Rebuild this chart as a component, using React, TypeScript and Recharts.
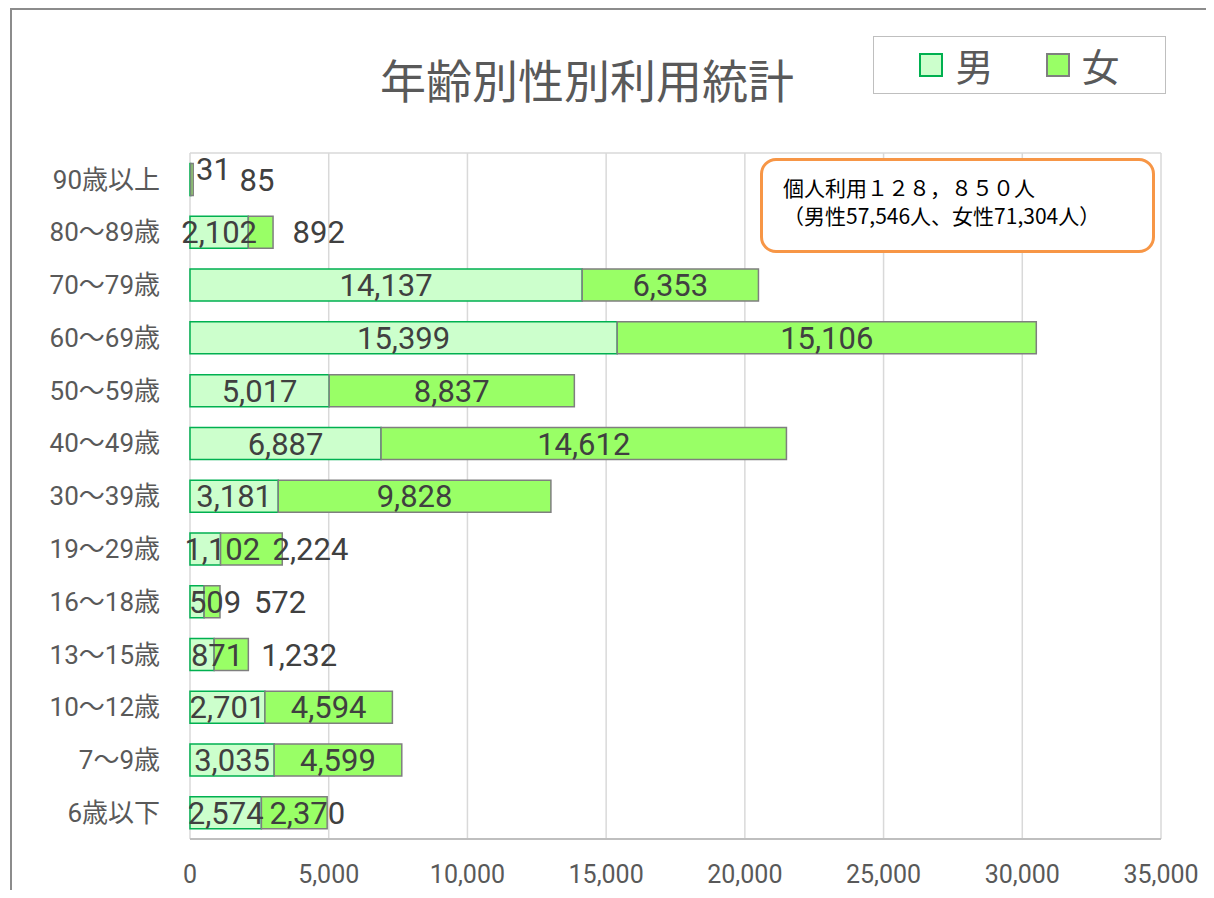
import React from 'react';
import {
  BarChart,
  Bar,
  XAxis,
  YAxis,
  CartesianGrid,
  LabelList,
} from 'recharts';

const categories = ['90歳以上', '80～89歳', '70～79歳', '60～69歳', '50～59歳', '40～49歳', '30～39歳', '19～29歳', '16～18歳', '13～15歳', '10～12歳', '7～9歳', '6歳以下'];
const maleValues = [31, 2102, 14137, 15399, 5017, 6887, 3181, 1102, 509, 871, 2701, 3035, 2574];
const femaleValues = [85, 892, 6353, 15106, 8837, 14612, 9828, 2224, 572, 1232, 4594, 4599, 2370];
const xTicks = [0, 5000, 10000, 15000, 20000, 25000, 30000, 35000];
const seriesNames = ['男', '女'];

const data = categories.map((c, i) => ({ age: c, male: maleValues[i], female: femaleValues[i] }));

const MALE = { fill: '#ccffcc', stroke: '#00b050' };
const FEMALE = { fill: '#99ff66', stroke: '#7f7f7f' };

// labels that were dragged off the segment centre in the original
const maleNudge: Record<string, { dx?: number; dy?: number }> = {
  '90歳以上': { dx: 23, dy: -11 },
  '19～29歳': { dx: 17 },
  '16～18歳': { dx: 18 },
  '13～15歳': { dx: 15 },
};
const femaleNudge: Record<string, { dx?: number; dy?: number }> = {
  '90歳以上': { dx: 65 },
  '80～89歳': { dx: 58 },
  '19～29歳': { dx: 59 },
  '16～18歳': { dx: 68 },
  '13～15歳': { dx: 68 },
  '6歳以下': { dx: 13 },
};

const NUM_FONT = "Roboto, 'Noto Sans CJK JP', sans-serif";
const JP_FONT = "'Noto Sans CJK JP', Roboto, sans-serif";

const makeLabel = (nudge: Record<string, { dx?: number; dy?: number }>) => (props: any) => {
  const { x, y, width, height, value, index } = props;
  const n = nudge[categories[index]] || {};
  const cx = Number(x) + Number(width) / 2 + (n.dx || 0);
  const cy = Number(y) + Number(height) / 2 + (n.dy || 0);
  return (
    <text
      x={cx}
      y={cy}
      dy="0.36em"
      textAnchor="middle"
      fill="#404040"
      fontSize={31}
      fontFamily={NUM_FONT}
    >
      {Number(value).toLocaleString('en-US')}
    </text>
  );
};

const LegendBox = () => (
  <div
    style={{
      position: 'absolute',
      left: 865,
      top: 28,
      width: 293,
      height: 58,
      border: '1.5px solid #bfbfbf',
      background: '#fff',
      display: 'flex',
      alignItems: 'center',
      justifyContent: 'center',
      gap: 52,
      fontFamily: JP_FONT,
      boxSizing: 'border-box',
    }}
  >
    {[MALE, FEMALE].map((c, i) => (
      <div key={seriesNames[i]} style={{ display: 'flex', alignItems: 'center', gap: 12 }}>
        <span
          style={{
            display: 'inline-block',
            width: 20,
            height: 20,
            background: c.fill,
            border: `2px solid ${c.stroke}`,
          }}
        />
        <span style={{ fontSize: 38, color: '#595959', lineHeight: 1 }}>{seriesNames[i]}</span>
      </div>
    ))}
  </div>
);

const App: React.FC = () => {
  return (
    <div style={{ position: 'relative', width: 1206, height: 882, fontFamily: JP_FONT }}>
      <div
        style={{
          position: 'absolute',
          left: 2,
          top: 0,
          width: 1204,
          height: 882,
          borderTop: '2px solid #8c8c8c',
          borderLeft: '2px solid #8c8c8c',
          boxSizing: 'border-box',
        }}
      />
      <div
        style={{
          position: 'absolute',
          left: 279,
          top: 42,
          width: 600,
          textAlign: 'center',
          fontSize: 46,
          color: '#595959',
          lineHeight: '56px',
        }}
      >
        年齢別性別利用統計
      </div>
      <div style={{ position: 'absolute', left: 0, top: 0 }}>
        <BarChart
          width={1206}
          height={882}
          data={data}
          layout="vertical"
          barCategoryGap="20%"
          margin={{ top: 144, right: 53, bottom: 0, left: 0 }}
        >
          <CartesianGrid horizontal={false} stroke="#d9d9d9" strokeWidth={1.5} />
          <XAxis
            type="number"
            domain={[0, 35000]}
            ticks={xTicks}
            tickFormatter={(v) => Number(v).toLocaleString('en-US')}
            tick={{ fill: '#595959', fontSize: 25, fontFamily: NUM_FONT }}
            tickSize={0}
            tickMargin={26}
            height={51}
            axisLine={{ stroke: '#bfbfbf', strokeWidth: 2 }}
            interval={0}
          />
          <XAxis
            xAxisId="top"
            orientation="top"
            type="number"
            domain={[0, 35000]}
            ticks={xTicks}
            tick={false}
            tickLine={false}
            height={1}
            axisLine={{ stroke: '#d9d9d9', strokeWidth: 1.5 }}
          />
          <YAxis
            type="category"
            dataKey="age"
            width={182}
            tickSize={0}
            tickMargin={30}
            axisLine={false}
            interval={0}
            tick={{ fill: '#595959', fontSize: 26, fontFamily: NUM_FONT }}
          />
          <Bar
            dataKey="male"
            name={seriesNames[0]}
            stackId="a"
            fill={MALE.fill}
            stroke={MALE.stroke}
            strokeWidth={1.5}
            isAnimationActive={false}
          >
            <LabelList dataKey="male" content={makeLabel(maleNudge)} />
          </Bar>
          <Bar
            dataKey="female"
            name={seriesNames[1]}
            stackId="a"
            fill={FEMALE.fill}
            stroke={FEMALE.stroke}
            strokeWidth={1.5}
            isAnimationActive={false}
          >
            <LabelList dataKey="female" content={makeLabel(femaleNudge)} />
          </Bar>
        </BarChart>
      </div>
      <LegendBox />
      <div
        style={{
          position: 'absolute',
          left: 752,
          top: 150,
          width: 395,
          height: 95,
          border: '3px solid #f79646',
          borderRadius: 16,
          background: '#fff',
          boxSizing: 'border-box',
          padding: '12px 0 0 20px',
          fontSize: 21,
          lineHeight: '28px',
          color: '#000',
          fontWeight: 400,
          fontFamily: JP_FONT,
        }}
      >
        <div>個人利用１２８，８５０人</div>
        <div>（男性57,546人、女性71,304人）</div>
      </div>
    </div>
  );
};

export default App;
